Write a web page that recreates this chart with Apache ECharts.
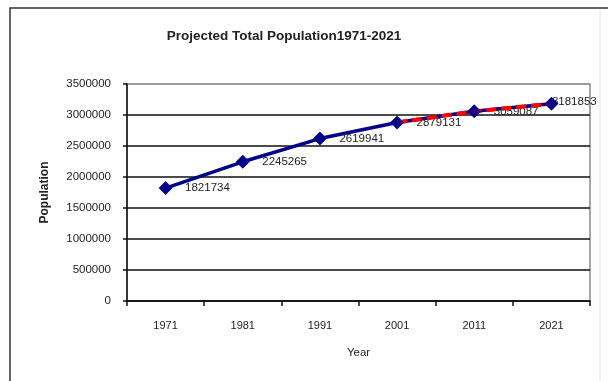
<!DOCTYPE html>
<html>
<head>
<meta charset="utf-8">
<style>
  html, body { margin: 0; padding: 0; background: #fff; }
  #chart { width: 608px; height: 381px; }
</style>
<script src="https://cdn.jsdelivr.net/npm/echarts@6/dist/echarts.min.js"></script>
</head>
<body>
<div id="chart"></div>
<script>
// Census years and population (1971-2001 actual, 2011-2021 projected)
const years = ['1971', '1981', '1991', '2001', '2011', '2021'];
const population = [1821734, 2245265, 2619941, 2879131, 3059087, 3181853];
// Projected segment starts from the 2001 census value
const projected = [null, null, null, 2879131, 3059087, 3181853];
const yTicks = [0, 500000, 1000000, 1500000, 2000000, 2500000, 3000000, 3500000];

const font = 'Liberation Sans, Arial, sans-serif';
const chart = echarts.init(document.getElementById('chart'), null, { renderer: 'canvas' });

chart.setOption({
  animation: false,
  backgroundColor: '#fff',
  title: {
    text: 'Projected Total Population1971-2021',
    left: 279, top: 24, textAlign: 'center',
    textStyle: { fontFamily: font, fontSize: 13.5, fontWeight: 'bold', color: '#222' }
  },
  graphic: [
    { type: 'rect', shape: { x: 10, y: 8, width: 620, height: 400 },
      style: { fill: 'none', stroke: '#333', lineWidth: 1.5 }, z: -1 },
    { type: 'line', shape: { x1: 600, y1: 10, x2: 600, y2: 381 },
      style: { stroke: '#e4e4e4', lineWidth: 1 }, z: -1 }
  ],
  grid: {
    left: 127, right: 18, top: 84, bottom: 80,
    show: true, borderColor: '#888', borderWidth: 1.5, backgroundColor: '#fff'
  },
  xAxis: {
    type: 'category',
    data: years,
    boundaryGap: true,
    name: 'Year', nameLocation: 'middle', nameGap: 46,
    nameTextStyle: { fontFamily: font, fontSize: 11.5, color: '#222' },
    axisLine: { lineStyle: { color: '#111', width: 1.5 } },
    axisTick: { show: true, length: 5, lineStyle: { color: '#111', width: 1.5 } },
    axisLabel: { fontFamily: font, fontSize: 11, color: '#222', margin: 19 },
    splitLine: { show: false }
  },
  yAxis: {
    type: 'value',
    min: yTicks[0], max: yTicks[yTicks.length - 1], interval: 500000,
    name: 'Population', nameLocation: 'middle', nameGap: 76, nameRotate: 90,
    nameTextStyle: { fontFamily: font, fontSize: 12, fontWeight: 'bold', color: '#222' },
    axisLine: { show: true, lineStyle: { color: '#111', width: 1.5 } },
    axisTick: { show: true, length: 4, lineStyle: { color: '#111', width: 1.5 } },
    axisLabel: {
      fontFamily: font, fontSize: 11.5, color: '#222', margin: 16,
      formatter: function (v) { return String(v); }
    },
    splitLine: {
      show: true,
      lineStyle: { color: ['#111', '#111', '#111', '#111', '#111', '#111', '#111', '#999'], width: 1.5 }
    }
  },
  series: [
    {
      name: 'Population', type: 'line', data: population, z: 2,
      symbol: 'diamond', symbolSize: 13,
      lineStyle: { color: '#00008b', width: 3.5 },
      itemStyle: { color: '#00008b' },
      label: {
        show: true, position: 'right', distance: 13, offset: [0, 3],
        fontFamily: font, fontSize: 11.5, color: '#222'
      },
      labelLayout: function (params) {
        return params.dataIndex === population.length - 1 ? { dx: -19, dy: -2 } : {};
      }
    },
    {
      name: 'Projected', type: 'line', data: projected, z: 3,
      symbol: 'none',
      lineStyle: { color: '#ff0000', width: 4, type: [10, 5] }
    },
    {
      name: 'Markers', type: 'scatter', data: population, z: 4,
      symbol: 'diamond', symbolSize: 14,
      itemStyle: { color: '#00008b' }
    }
  ]
});
</script>
</body>
</html>
